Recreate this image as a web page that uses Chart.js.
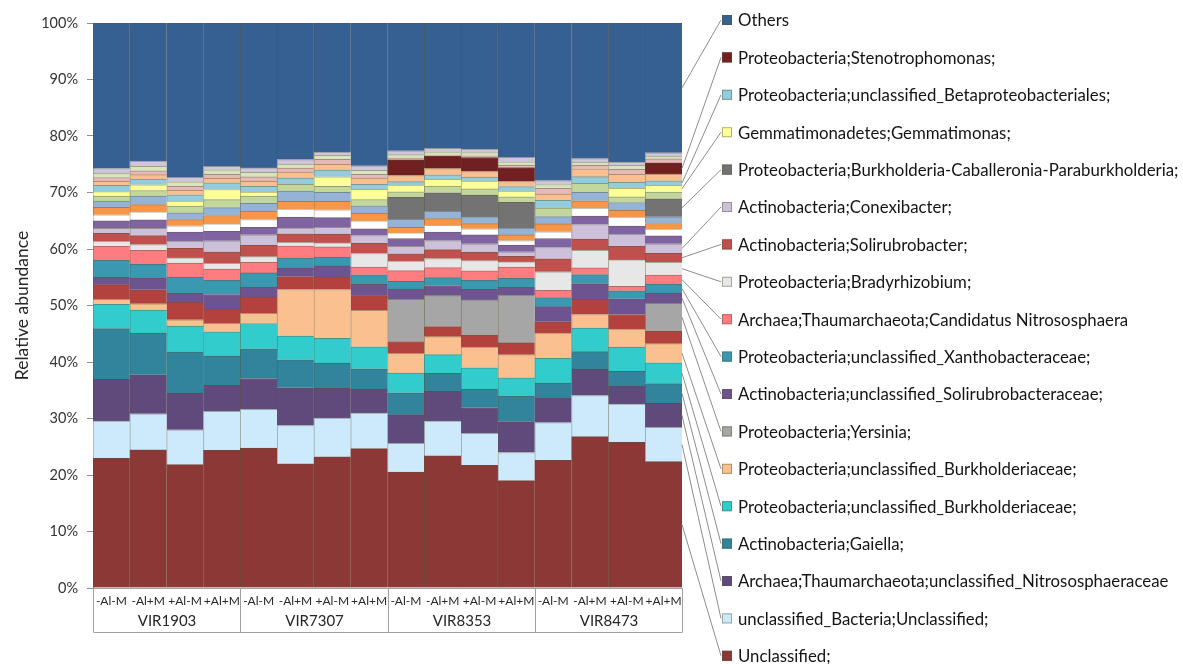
<!DOCTYPE html>
<html>
<head>
<meta charset="utf-8">
<title>Relative abundance</title>
<script src="https://cdn.jsdelivr.net/npm/chart.js@4.4.1/dist/chart.umd.min.js"></script>
<style>
  html, body { margin: 0; padding: 0; background: #ffffff; }
  #wrap { width: 1183px; height: 664px; position: relative; }
</style>
</head>
<body>
<div id="wrap"><canvas id="chart" width="1183" height="664"></canvas></div>
<script>
// ---- categories ----
const treatments = ['-Al-M', '-Al+M', '+Al-M', '+Al+M'];
const cultivars = ['VIR1903', 'VIR7307', 'VIR8353', 'VIR8473'];
const samples = cultivars.flatMap(() => treatments);
const percentTicks = ['0%', '10%', '20%', '30%', '40%', '50%', '60%', '70%', '80%', '90%', '100%'];

// ---- relative abundance (%) per sample, stacked bottom to top ----
const unclassified        = [23.0, 24.5, 21.9, 24.4, 24.9, 22.1, 23.4, 24.8, 20.6, 23.5, 21.9, 19.1, 22.7, 26.9, 25.9, 22.5];
const unclassifiedBacteria= [6.6, 6.4, 6.2, 6.9, 6.9, 6.8, 6.9, 6.3, 5.1, 6.2, 5.7, 5.0, 6.7, 7.3, 6.8, 6.1];
const nitrososphaeraceae  = [7.4, 6.9, 6.5, 4.6, 5.5, 6.7, 5.3, 4.3, 5.1, 5.3, 4.6, 5.5, 4.3, 4.7, 3.2, 4.3];
const gaiella             = [9.0, 7.4, 7.3, 5.2, 5.3, 5.0, 4.5, 3.6, 3.9, 3.2, 3.3, 4.5, 2.7, 3.1, 2.6, 3.5];
const burkholderiaceaeA   = [4.3, 4.1, 4.6, 4.3, 4.5, 4.2, 4.4, 3.9, 3.5, 3.3, 3.8, 3.3, 4.4, 4.2, 4.3, 3.7];
const burkholderiaceaeB   = [0.9, 1.1, 1.1, 1.5, 1.8, 8.3, 8.7, 6.5, 3.5, 3.2, 3.7, 4.1, 4.5, 2.4, 3.2, 3.4];
const minor1              = [2.6, 2.5, 3.1, 2.5, 2.9, 2.3, 2.2, 2.6, 2.1, 1.8, 2.1, 2.1, 2.0, 2.7, 2.6, 2.2];
const yersinia            = [0, 0, 0, 0, 0, 0, 0, 0, 7.5, 5.5, 6.3, 8.5, 0, 0, 0, 5.0];
const solirubrobacteraceae= [1.3, 2.0, 1.6, 2.6, 1.8, 1.5, 2.0, 2.0, 1.8, 1.8, 1.9, 1.4, 2.7, 2.8, 2.8, 1.8];
const xanthobacteraceae   = [3.0, 2.5, 2.9, 2.5, 2.5, 1.8, 1.6, 1.7, 1.4, 1.4, 1.6, 1.6, 1.6, 1.6, 1.4, 1.6];
const nitrososphaera      = [2.5, 2.5, 2.5, 2.0, 1.9, 2.1, 1.8, 1.4, 1.9, 1.8, 1.7, 2.0, 1.3, 1.2, 0.8, 1.6];
const bradyrhizobium      = [0.9, 1.0, 0.9, 1.0, 1.0, 0.7, 0.7, 2.4, 1.7, 1.6, 1.8, 0.9, 3.3, 3.1, 4.7, 2.3];
const solirubrobacter     = [1.4, 1.6, 1.7, 2.0, 2.0, 1.5, 1.6, 1.8, 1.3, 1.6, 1.5, 1.0, 2.3, 2.0, 2.4, 1.6];
const conexibacter        = [0.9, 1.3, 1.3, 2.0, 1.9, 1.0, 1.2, 1.4, 1.3, 1.6, 1.5, 0.8, 2.0, 2.6, 2.2, 1.7];
const minor2              = [1.3, 1.5, 1.6, 1.7, 1.3, 2.0, 1.7, 1.2, 1.4, 1.5, 1.6, 1.2, 1.6, 1.5, 1.4, 1.4];
const minor3              = [1.1, 1.4, 1.1, 1.3, 1.4, 1.4, 1.4, 1.4, 1.0, 1.2, 1.1, 0.8, 1.2, 1.4, 1.6, 1.2];
const minor4              = [1.3, 1.3, 1.1, 1.5, 1.5, 1.4, 1.5, 1.4, 1.0, 1.2, 0.9, 1.0, 1.4, 1.3, 1.2, 1.0];
const minor5              = [1.1, 1.5, 1.2, 1.4, 1.4, 1.8, 1.6, 1.3, 1.4, 1.3, 1.2, 1.2, 1.3, 1.5, 1.4, 1.2];
const burkholderiaCPB     = [0, 0, 0, 0, 0, 0, 0, 0, 3.9, 3.3, 3.9, 4.6, 0, 0, 0, 3.2];
const minor6              = [0.9, 1.0, 1.2, 1.4, 1.3, 1.2, 1.1, 1.1, 1.0, 1.2, 1.1, 1.0, 1.5, 1.6, 1.0, 1.2];
const gemmatimonas        = [0.8, 1.0, 0.9, 1.8, 0.7, 0, 1.7, 1.8, 1.2, 1.2, 1.4, 1.0, 0, 0, 1.5, 1.2];
const betaproteobacteriales=[1.1, 1.0, 1.1, 1.2, 1.0, 1.1, 1.2, 0.9, 0.6, 0.8, 0.7, 0.8, 1.4, 1.2, 1.1, 0.8];
const minor7              = [0.7, 0.8, 0.8, 0.8, 0.9, 1.1, 1.0, 1.1, 1.1, 1.1, 1.0, 0.9, 1.1, 1.4, 1.4, 1.2];
const stenotrophomonas    = [0, 0, 0, 0, 0, 0, 0, 0, 2.8, 2.2, 2.5, 2.5, 0, 0, 0, 2.0];
const minor8              = [0.7, 0.7, 0.7, 0.7, 0.8, 0.7, 0.9, 0.7, 0.3, 0.2, 0.3, 0.4, 1.0, 0.6, 0.9, 0.7];
const minor9              = [0.8, 0.8, 0.8, 0.8, 0.8, 0.7, 0.7, 0.7, 0.6, 0.6, 0.6, 0.6, 0.7, 0.6, 0.7, 0.5];
const minor10             = [0.8, 0.9, 0.8, 0.6, 0.8, 0.8, 0.6, 0.8, 0.7, 0.6, 0.6, 0.8, 0.7, 0.6, 0.6, 0.6];
const others              = [25.8, 24.5, 27.4, 25.4, 25.8, 24.3, 23.0, 25.4, 22.7, 22.3, 22.5, 23.9, 28.0, 24.1, 24.7, 23.1];

// series in stacking order; minor taxa carry no legend entry
const series = [
  { name: 'Unclassified;', values: unclassified, fill: '#8b3836' },
  { name: 'unclassified_Bacteria;Unclassified;', values: unclassifiedBacteria, fill: '#cdeafc' },
  { name: 'Archaea;Thaumarchaeota;unclassified_Nitrososphaeraceae', values: nitrososphaeraceae, fill: '#5f4a7b' },
  { name: 'Actinobacteria;Gaiella;', values: gaiella, fill: '#31849b' },
  { name: 'Proteobacteria;unclassified_Burkholderiaceae;', values: burkholderiaceaeA, fill: '#33cccc' },
  { name: 'Proteobacteria;unclassified_Burkholderiaceae;', values: burkholderiaceaeB, fill: '#fac090' },
  { name: null, values: minor1, fill: '#b3423f' },
  { name: 'Proteobacteria;Yersinia;', values: yersinia, fill: '#a6a6a6' },
  { name: 'Actinobacteria;unclassified_Solirubrobacteraceae;', values: solirubrobacteraceae, fill: '#6e5391' },
  { name: 'Proteobacteria;unclassified_Xanthobacteraceae;', values: xanthobacteraceae, fill: '#3a98b0' },
  { name: 'Archaea;Thaumarchaeota;Candidatus Nitrososphaera', values: nitrososphaera, fill: '#ff7c80' },
  { name: 'Proteobacteria;Bradyrhizobium;', values: bradyrhizobium, fill: '#e7e7e7' },
  { name: 'Actinobacteria;Solirubrobacter;', values: solirubrobacter, fill: '#c0504d' },
  { name: 'Actinobacteria;Conexibacter;', values: conexibacter, fill: '#ccc0da' },
  { name: null, values: minor2, fill: '#8064a2' },
  { name: null, values: minor3, fill: '#ffffff' },
  { name: null, values: minor4, fill: '#f79646' },
  { name: null, values: minor5, fill: '#95b3d7' },
  { name: 'Proteobacteria;Burkholderia-Caballeronia-Paraburkholderia;', values: burkholderiaCPB, fill: '#737373' },
  { name: null, values: minor6, fill: '#c3d69b' },
  { name: 'Gemmatimonadetes;Gemmatimonas;', values: gemmatimonas, fill: '#ffff99' },
  { name: 'Proteobacteria;unclassified_Betaproteobacteriales;', values: betaproteobacteriales, fill: '#93cddd' },
  { name: null, values: minor7, fill: '#fabf8f' },
  { name: 'Proteobacteria;Stenotrophomonas;', values: stenotrophomonas, fill: '#702020' },
  { name: null, values: minor8, fill: '#e6b9b8' },
  { name: null, values: minor9, fill: '#d7e4bd' },
  { name: null, values: minor10, fill: '#cfc6dc' },
  { name: 'Others', values: others, fill: '#366092' }
];

// each column is shown as a share of its own total (100% stacked)
const totals = samples.map((_, i) => series.reduce((s, d) => s + d.values[i], 0));

function edgeColor(hex) {
  const n = parseInt(hex.slice(1), 16);
  const mix = (c, t) => Math.round(c * 0.55 + t * 0.45);
  const r = mix((n >> 16) & 255, 85), g = mix((n >> 8) & 255, 85), b = mix(n & 255, 60);
  return `rgb(${r},${g},${b})`;
}

const datasets = series.map(s => ({
  label: s.name || '',
  legendText: s.name,
  data: s.values.map((v, i) => v / totals[i] * 100),
  backgroundColor: s.fill,
  borderColor: edgeColor(s.fill),
  borderWidth: { top: 1, left: 1, right: 0, bottom: 0 },
  borderSkipped: false,
  categoryPercentage: 1.0,
  barPercentage: 1.0
}));

// two-level category frame under the plot and cultivar names
const groupAxis = {
  id: 'groupAxis',
  afterDraw(chart) {
    const { ctx, chartArea } = chart;
    const xs = chart.scales.x;
    const per = treatments.length;
    const half = (xs.getPixelForValue(1) - xs.getPixelForValue(0)) / 2;
    const bottom = 632;
    ctx.save();
    ctx.strokeStyle = '#a0a0a0';
    ctx.lineWidth = 1;
    const edges = [];
    for (let g = 0; g <= cultivars.length; g++) {
      const idx = Math.min(g * per, samples.length - 1);
      const x = g < cultivars.length ? xs.getPixelForValue(idx) - half : xs.getPixelForValue(idx) + half;
      edges.push(Math.round(x) + 0.5);
    }
    ctx.beginPath();
    edges.forEach(x => { ctx.moveTo(x, chartArea.bottom); ctx.lineTo(x, bottom); });
    ctx.moveTo(edges[0], bottom + 0.5);
    ctx.lineTo(edges[edges.length - 1], bottom + 0.5);
    ctx.stroke();
    ctx.fillStyle = '#262626';
    ctx.font = '15px Lato, "Open Sans", sans-serif';
    ctx.textAlign = 'center';
    ctx.textBaseline = 'middle';
    cultivars.forEach((name, g) => {
      ctx.fillText(name, (edges[g] + edges[g + 1]) / 2, 621);
    });
    ctx.restore();
  }
};

// legend at the right, each entry tied to its segment in the last column
const leaderLegend = {
  id: 'leaderLegend',
  afterDraw(chart) {
    const { ctx } = chart;
    const last = samples.length - 1;
    const entries = chart.data.datasets
      .map((ds, i) => ({ ds, i }))
      .filter(e => e.ds.legendText)
      .reverse();
    const top = 20, step = 37.4, boxX = 722, textX = 738;
    ctx.save();
    entries.forEach((e, k) => {
      const y = top + k * step;
      const bar = chart.getDatasetMeta(e.i).data[last];
      const ty = (bar.y + bar.base) / 2;
      const tx = bar.x + bar.width / 2;
      ctx.strokeStyle = '#8c8c8c';
      ctx.lineWidth = 1;
      ctx.beginPath();
      ctx.moveTo(tx, ty);
      ctx.lineTo(boxX - 1, y);
      ctx.stroke();
      ctx.fillStyle = e.ds.backgroundColor;
      ctx.fillRect(boxX, y - 5, 10, 10);
      ctx.strokeStyle = e.ds.borderColor;
      ctx.strokeRect(boxX + 0.5, y - 4.5, 9, 9);
      ctx.fillStyle = '#141414';
      ctx.font = '16.8px Lato, "Open Sans", sans-serif';
      ctx.textAlign = 'left';
      ctx.textBaseline = 'middle';
      ctx.fillText(e.ds.legendText, textX, y + 1);
    });
    ctx.restore();
  }
};

Chart.defaults.font.family = 'Lato, "Open Sans", sans-serif';

new Chart(document.getElementById('chart'), {
  type: 'bar',
  data: { labels: samples, datasets },
  plugins: [groupAxis, leaderLegend],
  options: {
    responsive: false,
    animation: false,
    devicePixelRatio: 1,
    layout: { padding: { top: 23, right: 501, left: 0, bottom: 0 } },
    plugins: {
      legend: { display: false },
      tooltip: { enabled: false }
    },
    scales: {
      x: {
        stacked: true,
        grid: { display: false, drawTicks: false },
        border: { display: true, color: '#a0a0a0' },
        ticks: {
          color: '#262626',
          font: { size: 12 },
          padding: 6,
          autoSkip: false,
          maxRotation: 0
        },
        afterFit(scale) { scale.height = 76; }
      },
      y: {
        stacked: true,
        min: 0,
        max: 100,
        ticks: {
          stepSize: 10,
          color: '#333333',
          font: { size: 14.5 },
          padding: 9,
          callback: v => percentTicks[Math.round(v / 10)]
        },
        grid: { drawOnChartArea: false, drawTicks: true, tickLength: 6, color: '#909090' },
        border: { display: true, color: '#909090' },
        title: {
          display: true,
          text: 'Relative abundance',
          color: '#262626',
          font: { size: 17.5 },
          padding: { top: 12, bottom: 0 }
        },
        afterFit(scale) { scale.width = 93; }
      }
    }
  }
});
</script>
</body>
</html>
